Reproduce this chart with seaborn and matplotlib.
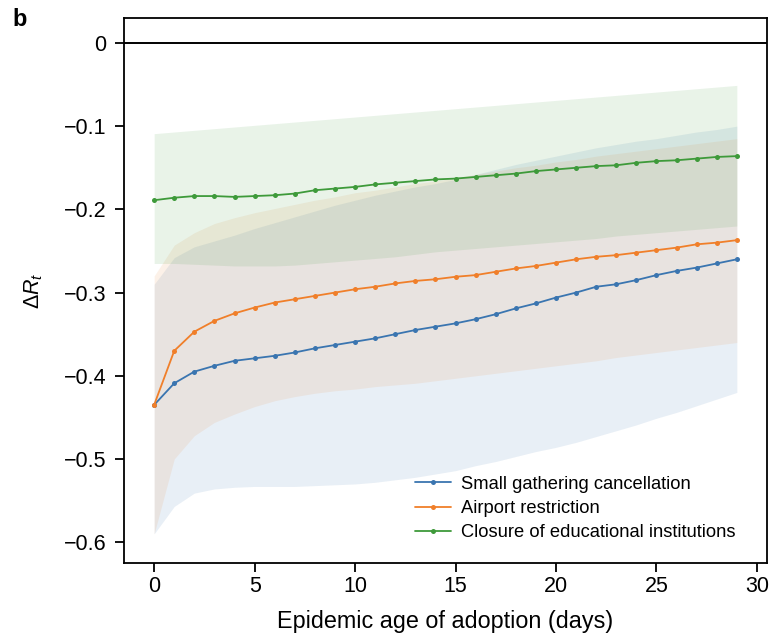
import matplotlib
matplotlib.use("Agg")
import matplotlib.pyplot as plt
import seaborn as sns
import numpy as np
import pandas as pd

# ---------------- data ----------------
days = list(range(30))

small_gathering = [-0.435, -0.409, -0.395, -0.388, -0.382, -0.379, -0.376, -0.372, -0.367, -0.363,
                   -0.359, -0.355, -0.350, -0.345, -0.341, -0.337, -0.332, -0.326, -0.319, -0.313,
                   -0.306, -0.300, -0.293, -0.290, -0.285, -0.279, -0.274, -0.270, -0.265, -0.260]
small_gathering_lo = [-0.590, -0.557, -0.541, -0.536, -0.534, -0.533, -0.533, -0.533, -0.532, -0.531,
                      -0.530, -0.528, -0.525, -0.522, -0.518, -0.514, -0.508, -0.503, -0.497, -0.491,
                      -0.486, -0.480, -0.473, -0.466, -0.459, -0.451, -0.444, -0.436, -0.428, -0.420]
small_gathering_hi = [-0.290, -0.258, -0.245, -0.238, -0.231, -0.223, -0.216, -0.209, -0.202, -0.195,
                      -0.189, -0.183, -0.178, -0.173, -0.169, -0.164, -0.158, -0.152, -0.146, -0.141,
                      -0.136, -0.131, -0.126, -0.122, -0.118, -0.115, -0.111, -0.107, -0.104, -0.100]

airport = [-0.435, -0.370, -0.347, -0.334, -0.325, -0.318, -0.312, -0.308, -0.304, -0.300,
           -0.296, -0.293, -0.289, -0.286, -0.284, -0.281, -0.279, -0.275, -0.271, -0.268,
           -0.264, -0.260, -0.257, -0.255, -0.252, -0.249, -0.246, -0.242, -0.240, -0.237]
airport_lo = [-0.590, -0.500, -0.472, -0.456, -0.446, -0.437, -0.430, -0.425, -0.421, -0.418,
              -0.416, -0.413, -0.411, -0.409, -0.406, -0.403, -0.400, -0.397, -0.394, -0.391,
              -0.388, -0.385, -0.382, -0.378, -0.375, -0.372, -0.369, -0.366, -0.363, -0.360]
airport_hi = [-0.280, -0.243, -0.228, -0.217, -0.210, -0.204, -0.199, -0.194, -0.189, -0.185,
              -0.180, -0.177, -0.173, -0.169, -0.166, -0.162, -0.158, -0.154, -0.150, -0.147,
              -0.143, -0.140, -0.136, -0.133, -0.130, -0.127, -0.124, -0.121, -0.118, -0.115]

schools = [-0.189, -0.186, -0.184, -0.184, -0.185, -0.184, -0.183, -0.181, -0.177, -0.175,
           -0.173, -0.170, -0.168, -0.166, -0.164, -0.163, -0.161, -0.159, -0.157, -0.154,
           -0.152, -0.150, -0.148, -0.147, -0.144, -0.142, -0.141, -0.139, -0.137, -0.136]
schools_lo = [-0.265, -0.265, -0.266, -0.267, -0.268, -0.268, -0.268, -0.267, -0.265, -0.263,
              -0.261, -0.259, -0.257, -0.254, -0.251, -0.249, -0.247, -0.245, -0.243, -0.241,
              -0.239, -0.237, -0.235, -0.232, -0.230, -0.228, -0.226, -0.224, -0.222, -0.220]
schools_hi = [-0.109, -0.107, -0.105, -0.103, -0.101, -0.099, -0.097, -0.095, -0.093, -0.091,
              -0.089, -0.087, -0.085, -0.083, -0.081, -0.079, -0.077, -0.075, -0.073, -0.071,
              -0.069, -0.067, -0.065, -0.063, -0.061, -0.059, -0.057, -0.055, -0.053, -0.051]

labels = ["Small gathering cancellation", "Airport restriction",
          "Closure of educational institutions"]
colors = ["#3a75b0", "#f07f2a", "#3e9a3a"]
fill_colors = ["#3a75b0", "#e88a3a", "#3e9a3a"]
yticks = [0, -0.1, -0.2, -0.3, -0.4, -0.5, -0.6]
ytick_labels = ["0", "\u22120.1", "\u22120.2", "\u22120.3", "\u22120.4", "\u22120.5", "\u22120.6"]
xticks = [0, 5, 10, 15, 20, 25, 30]

# ---------------- style ----------------
sns.set_style("ticks")
plt.rcParams["font.family"] = ["Liberation Sans", "DejaVu Sans"]
plt.rcParams["mathtext.fontset"] = "custom"
plt.rcParams["mathtext.rm"] = "Liberation Sans"
plt.rcParams["mathtext.it"] = "Liberation Sans:italic"
plt.rcParams["text.color"] = "black"
plt.rcParams["axes.labelcolor"] = "black"
plt.rcParams["xtick.color"] = "black"
plt.rcParams["ytick.color"] = "black"

fig = plt.figure(figsize=(7.71, 6.39), dpi=100)
ax = fig.add_axes([124 / 771, 1 - 563 / 639, (767 - 124) / 771, (563 - 18) / 639])

series = [(small_gathering, small_gathering_lo, small_gathering_hi),
          (airport, airport_lo, airport_hi),
          (schools, schools_lo, schools_hi)]

for (m, lo, hi), c in zip(series, fill_colors):
    ax.fill_between(days, lo, hi, color=c, alpha=0.115, linewidth=0)

for (m, lo, hi), c, lab in zip(series, colors, labels):
    df = pd.DataFrame({"day": days, "val": m})
    sns.lineplot(data=df, x="day", y="val", ax=ax, color=c, linewidth=1.3,
                 marker="o", markersize=3.6, markeredgewidth=0, label=lab)

ax.axhline(0, color="black", linewidth=1.4, zorder=1)

ax.set_xlim(-1.5, 30.5)
ax.set_ylim(-0.625, 0.03)
ax.set_xticks(xticks)
ax.set_yticks(yticks)
ax.set_yticklabels(ytick_labels)
ax.tick_params(axis="both", labelsize=15.5, length=6.5, width=1.3, direction="out",
               colors="black")
ax.tick_params(axis="y", pad=6)
ax.tick_params(axis="x", pad=3)
for s in ax.spines.values():
    s.set_linewidth(1.3)
    s.set_color("black")

ax.set_xlabel("Epidemic age of adoption (days)", fontsize=16.8, labelpad=9)
ax.set_ylabel(r"$\Delta R_t$", fontsize=15.5, labelpad=14)

leg = ax.legend(loc="lower right", bbox_to_anchor=(0.962, 0.026), borderaxespad=0,
                frameon=False, fontsize=13.2, handlelength=1.95, handletextpad=0.55,
                labelspacing=0.4)

fig.text(12 / 771, 1 - 19 / 639, "b", fontsize=17, fontweight="bold", va="center", ha="left")

fig.savefig("out.png", dpi=100)
